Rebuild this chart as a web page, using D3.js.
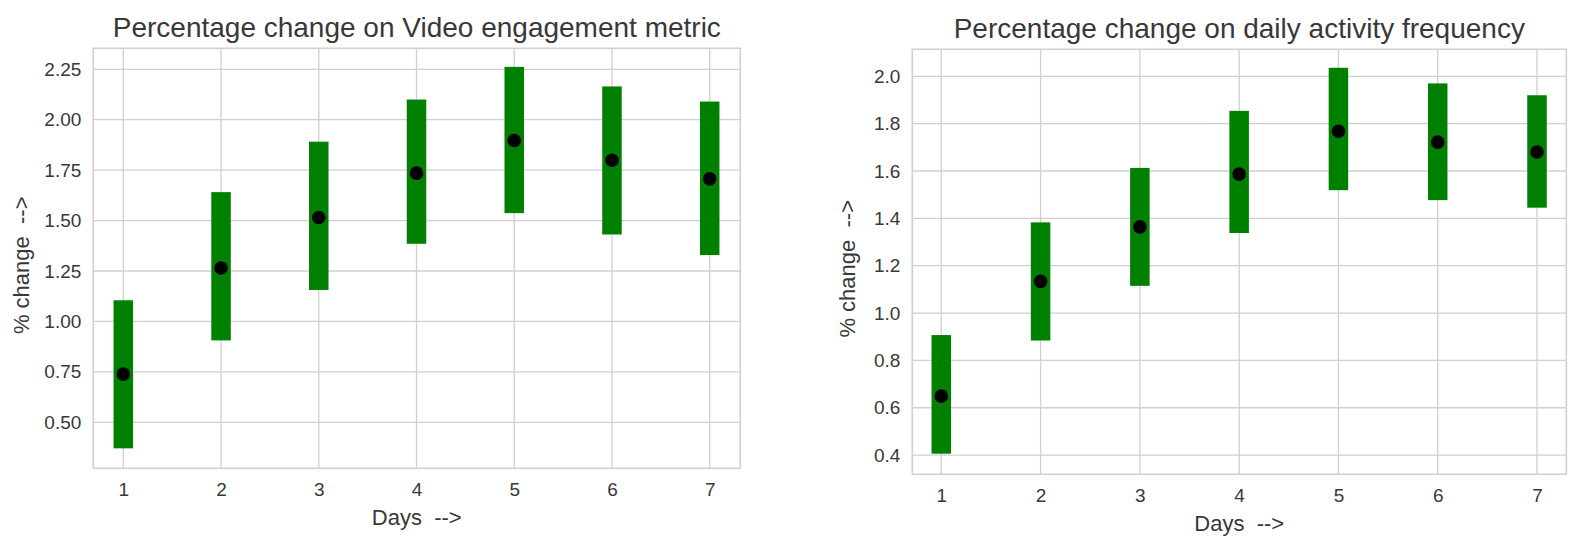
<!DOCTYPE html>
<html>
<head>
<meta charset="utf-8">
<script src="https://cdn.jsdelivr.net/npm/d3@7"></script>
<style>
  body { margin: 0; background: #fff; }
  text { font-family: "Liberation Sans", Arial, sans-serif; fill: #383838; }
</style>
</head>
<body>
<svg id="chart" width="1586" height="538"></svg>
<script>
var days = [1, 2, 3, 4, 5, 6, 7];

// Video engagement metric (% change)
var videoMean = [0.739, 1.265, 1.515, 1.735, 1.897, 1.799, 1.707];
var videoLow  = [0.371, 0.906, 1.156, 1.385, 1.537, 1.431, 1.329];
var videoHigh = [1.105, 1.641, 1.891, 2.100, 2.262, 2.165, 2.090];
var videoTicks = [0.50, 0.75, 1.00, 1.25, 1.50, 1.75, 2.00, 2.25];

// daily activity frequency (% change)
var activityMean = [0.649, 1.134, 1.364, 1.587, 1.768, 1.722, 1.680];
var activityLow  = [0.406, 0.884, 1.115, 1.338, 1.519, 1.477, 1.445];
var activityHigh = [0.907, 1.383, 1.613, 1.854, 2.036, 1.970, 1.920];
var activityTicks = [0.4, 0.6, 0.8, 1.0, 1.2, 1.4, 1.6, 1.8, 2.0];

var svg = d3.select('#chart');

function draw(cfg) {
  var x = d3.scaleLinear().domain(cfg.xDomain).range([cfg.left, cfg.left + cfg.width]);
  var y = d3.scaleLinear().domain(cfg.yDomain).range([cfg.top + cfg.height, cfg.top]);

  var g = svg.append('g');

  // grid
  g.append('g').selectAll('line.h')
    .data(cfg.yTicks)
    .enter().append('line')
    .attr('x1', cfg.left).attr('x2', cfg.left + cfg.width)
    .attr('y1', function(d) { return y(d); })
    .attr('y2', function(d) { return y(d); })
    .attr('stroke', '#d0d0d0').attr('stroke-width', 1.3);

  g.append('g').selectAll('line.v')
    .data(days)
    .enter().append('line')
    .attr('y1', cfg.top).attr('y2', cfg.top + cfg.height)
    .attr('x1', function(d) { return x(d); })
    .attr('x2', function(d) { return x(d); })
    .attr('stroke', '#d0d0d0').attr('stroke-width', 1.3);

  // frame
  g.append('rect')
    .attr('x', cfg.left).attr('y', cfg.top)
    .attr('width', cfg.width).attr('height', cfg.height)
    .attr('fill', 'none').attr('stroke', '#d0d0d0').attr('stroke-width', 1.6);

  // axes (labels only, no tick marks)
  var yAxis = d3.axisLeft(y).tickValues(cfg.yTicks).tickFormat(d3.format(cfg.yFormat)).tickSize(0).tickPadding(12);
  var ya = g.append('g').attr('transform', 'translate(' + cfg.left + ',0)').call(yAxis);
  ya.select('.domain').remove();
  ya.selectAll('text').style('font-size', '19px').attr('fill', '#444');

  var xAxis = d3.axisBottom(x).tickValues(days).tickFormat(d3.format('d')).tickSize(0).tickPadding(14);
  var xa = g.append('g').attr('transform', 'translate(0,' + (cfg.top + cfg.height) + ')').call(xAxis);
  xa.select('.domain').remove();
  xa.selectAll('text').style('font-size', '19px').attr('fill', '#444');

  // error bars
  var barW = 19.5;
  g.append('g').selectAll('rect')
    .data(days)
    .enter().append('rect')
    .attr('x', function(d) { return x(d) - barW / 2; })
    .attr('y', function(d, i) { return y(cfg.high[i]); })
    .attr('width', barW)
    .attr('height', function(d, i) { return y(cfg.low[i]) - y(cfg.high[i]); })
    .attr('fill', '#008000');

  // means
  g.append('g').selectAll('circle')
    .data(days)
    .enter().append('circle')
    .attr('cx', function(d) { return x(d); })
    .attr('cy', function(d, i) { return y(cfg.mean[i]); })
    .attr('r', 6.8)
    .attr('fill', '#000');

  // title
  g.append('text')
    .attr('x', cfg.left + cfg.width / 2)
    .attr('y', cfg.top - 11)
    .attr('text-anchor', 'middle')
    .style('font-size', '28px')
    .text(cfg.title);

  // axis labels
  g.append('text')
    .attr('x', cfg.left + cfg.width / 2)
    .attr('y', cfg.top + cfg.height + 57)
    .attr('text-anchor', 'middle')
    .style('font-size', '22px')
    .style('white-space', 'pre')
    .text('Days  -->');

  g.append('text')
    .attr('transform', 'translate(' + cfg.yLabelX + ',' + (cfg.top + cfg.height / 2 + 7) + ') rotate(-90)')
    .attr('text-anchor', 'middle')
    .attr('dy', '0.35em')
    .style('font-size', '22px')
    .style('white-space', 'pre')
    .text('% change  -->');
}

draw({
  left: 93.3, top: 48.3, width: 647, height: 420,
  xDomain: [0.693, 7.313], yDomain: [0.272, 2.354],
  yTicks: videoTicks, yFormat: '.2f', yLabelX: 21,
  mean: videoMean, low: videoLow, high: videoHigh,
  title: 'Percentage change on Video engagement metric'
});

draw({
  left: 912.3, top: 49.3, width: 654, height: 425,
  xDomain: [0.708, 7.295], yDomain: [0.319, 2.114],
  yTicks: activityTicks, yFormat: '.1f', yLabelX: 847,
  mean: activityMean, low: activityLow, high: activityHigh,
  title: 'Percentage change on daily activity frequency'
});
</script>
</body>
</html>
